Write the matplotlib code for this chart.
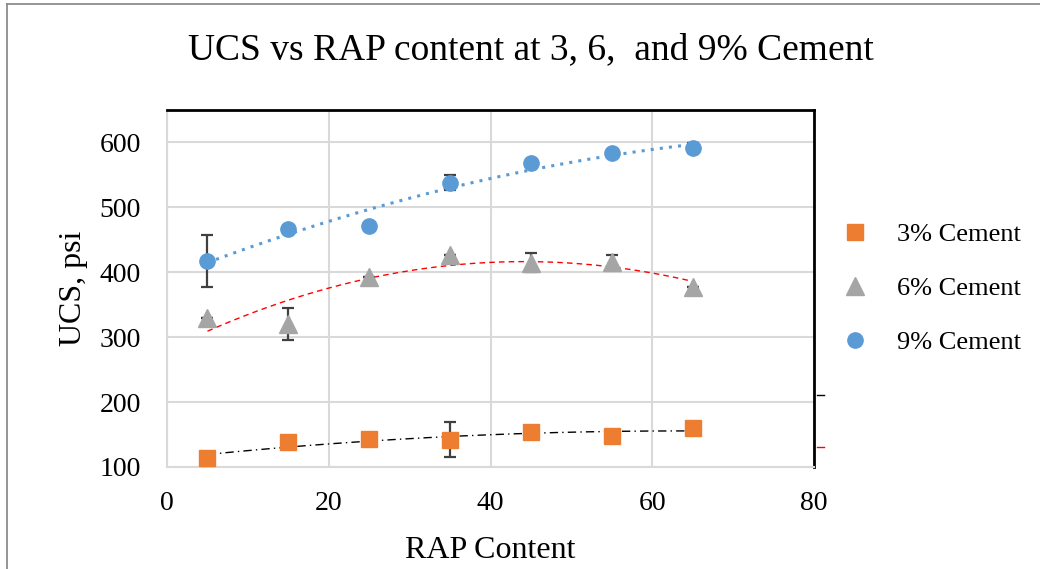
import numpy as np
import matplotlib.pyplot as plt
from matplotlib.lines import Line2D

plt.rcParams['font.family'] = ['Liberation Serif', 'DejaVu Serif']

# RAP content (%) for each mix
rap = [5, 15, 25, 35, 45, 55, 65]

# Unconfined compressive strength, psi
ucs_3 = [114, 138, 143, 142, 154, 148, 160]
err_3 = [0, 0, 0, 27, 0, 0, 0]

ucs_6 = [330, 320, 393, 426, 415, 416, 378]
err_6 = [0, 25, 0, 0, 15, 10, 0]

ucs_9 = [418, 466, 471, 538, 568, 583, 591]
err_9 = [40, 0, 0, 12, 0, 0, 8]

labels = ['3% Cement', '6% Cement', '9% Cement']
x_ticks = [0, 20, 40, 60, 80]
y_ticks = [100, 200, 300, 400, 500, 600]

c_orange = '#ED7D31'
c_gray = '#A5A5A5'
c_blue = '#5B9BD5'
c_err = '#404040'
c_grid = '#D9D9D9'

fig = plt.figure(figsize=(10.40, 5.69), dpi=100)
ax = fig.add_axes([0.1606, 0.1793, 0.6221, 0.6274])

# chart area border (top and left edges)
fig.add_artist(Line2D([0.0065, 0.0065], [0.0, 0.993], color='#8C8C8C', linewidth=1.3))
fig.add_artist(Line2D([0.0065, 1.0], [0.993, 0.993], color='#8C8C8C', linewidth=1.3))

xx = np.linspace(min(rap), max(rap), 200)

def trend(y, **kw):
    coef = np.polyfit(rap, y, 2)
    ax.plot(xx, np.polyval(coef, xx), zorder=3, **kw)

trend(ucs_3, color='black', linestyle=(0, (6, 3, 1, 3)), linewidth=1.0)
trend(ucs_6, color='#FF0000', linestyle=(0, (4, 3)), linewidth=1.0)
trend(ucs_9, color=c_blue, linestyle=(0, (1, 2)), linewidth=2.2)

ms = 11
eb = dict(ecolor=c_err, elinewidth=1.6, capsize=4.5, capthick=1.6, linestyle='none', zorder=4)
ax.errorbar(rap, ucs_3, yerr=err_3, marker='s', markersize=ms, color=c_orange,
            markeredgecolor=c_orange, **eb)
ax.errorbar(rap, ucs_6, yerr=err_6, marker='^', markersize=ms + 2, color=c_gray,
            markeredgecolor=c_gray, **eb)
ax.errorbar(rap, ucs_9, yerr=err_9, marker='o', markersize=ms, color=c_blue,
            markeredgecolor=c_blue, **eb)

ax.set_xlim(0, 80)
ax.set_ylim(100, 650)
ax.set_xticks(x_ticks)
ax.set_yticks(y_ticks)
ax.tick_params(axis='both', length=0, labelsize=20)
ax.tick_params(axis='x', pad=17)
ax.tick_params(axis='y', pad=19)
ax.grid(True, color=c_grid, linewidth=1.5)
ax.set_axisbelow(True)

for side in ('left', 'bottom'):
    ax.spines[side].set_color(c_grid)
    ax.spines[side].set_linewidth(1.5)
for side in ('top', 'right'):
    ax.spines[side].set_color('black')
    ax.spines[side].set_linewidth(2.0)

ax.set_xlabel('RAP Content', fontsize=23)
ax.xaxis.set_label_coords(0.5, -0.192)
ax.set_ylabel('UCS, psi', fontsize=23)
ax.yaxis.set_label_coords(-0.122, 0.5)
fig.text(0.51, 0.913, 'UCS vs RAP content at 3, 6,  and 9% Cement',
         fontsize=27, ha='center', va='center')

handles = [Line2D([], [], marker='s', color=c_orange, linestyle='none', markersize=ms),
           Line2D([], [], marker='^', color=c_gray, linestyle='none', markersize=ms + 2),
           Line2D([], [], marker='o', color=c_blue, linestyle='none', markersize=ms)]
fig.legend(handles, labels, loc='upper left', bbox_to_anchor=(0.7805, 0.651),
           frameon=False, fontsize=19, labelspacing=1.17, handletextpad=0.83,
           handlelength=1.5, borderpad=0.4)

# clipped trendline legend keys
fig.add_artist(Line2D([0.786, 0.792], [1 - 395 / 569] * 2, color='black', linewidth=1.0))
fig.add_artist(Line2D([0.786, 0.792], [1 - 447 / 569] * 2, color='#FF0000', linewidth=1.0))

fig.savefig('out.png', dpi=100)
